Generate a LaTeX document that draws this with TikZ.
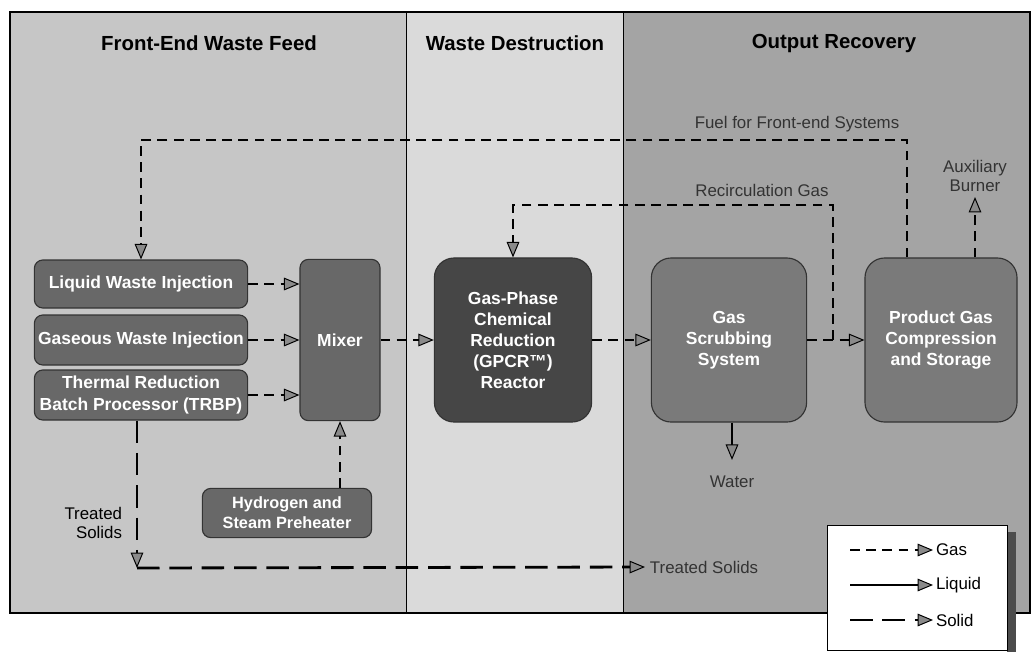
\documentclass[tikz,border=0pt]{standalone}
\usepackage{fontspec}
\setmainfont{Liberation Sans}
\usetikzlibrary{arrows.meta}

\definecolor{feedbg}{HTML}{C6C6C6}
\definecolor{destbg}{HTML}{DADADA}
\definecolor{recbg}{HTML}{A4A4A4}
\definecolor{feedbox}{HTML}{686868}
\definecolor{reactbox}{HTML}{464646}
\definecolor{recbox}{HTML}{7A7A7A}
\definecolor{tipgray}{HTML}{8A8A8A}

\begin{document}
\begin{tikzpicture}[x=0.025cm,y=-0.025cm,
   head/.style={font=\bfseries\fontsize{14.5}{17}\selectfont},
   unit/.style={draw=black!80,line width=0.8pt,fill=feedbox,text=white,align=center,
      font=\bfseries\fontsize{12.4}{15}\selectfont,rounded corners=6pt,inner sep=1pt},
   bigunit/.style={unit,rounded corners=14pt},
   tip/.style={-{Triangle[length=11pt,width=9pt,line width=0.7pt,fill=tipgray]}},
   gas/.style={tip,line width=2pt,dash pattern=on 7pt off 4.5pt},
   fluid/.style={tip,line width=2pt},
   solidflow/.style={tip,line width=2pt,dash pattern=on 16pt off 7pt},
   note/.style={font=\fontsize{12}{14}\selectfont,text=black!80,align=center}]
   \useasboundingbox (0,0) rectangle (1032,653);
   % the three panels
   \fill[feedbg] (10,12) rectangle (406,613);
   \fill[destbg] (406,12) rectangle (623,613);
   \fill[recbg] (623,12) rectangle (1030,613);
   \draw[line width=0.8pt] (10,12) rectangle (1030,613);
   \draw[line width=0.6pt] (406,12) -- (406,613) (623,12) -- (623,613);
   \node[head] (hfeed) at (209,43) {Front-End Waste Feed};
   \node[head] (hdest) at (515,43) {Waste Destruction};
   \node[head] (hrec) at (834,43) {Output Recovery};

   % process units
   \node[unit,minimum width=5.33cm,minimum height=1.2cm] (liquid) at (141,284) {Liquid Waste Injection};
   \node[unit,minimum width=5.33cm,minimum height=1.25cm] (gaseous) at (141,340) {Gaseous Waste Injection};
   \node[unit,minimum width=5.33cm,minimum height=1.25cm] (trbp) at (141,395) {Thermal Reduction\\Batch Processor (TRBP)};
   \node[unit,minimum width=2cm,minimum height=4.03cm] (mixer) at (340,340) {Mixer};
   \node[unit,font=\bfseries\fontsize{11.6}{14}\selectfont,minimum width=4.23cm,minimum height=1.23cm] (preheater) at (287,513)
      {Hydrogen and\\Steam Preheater};
   \node[bigunit,fill=reactbox,minimum width=3.93cm,minimum height=4.1cm] (reactor) at (513,340)
      {Gas-Phase\\Chemical\\Reduction\\(GPCR™)\\Reactor};
   \node[bigunit,fill=recbox,minimum width=3.88cm,minimum height=4.1cm] (scrubber) at (729,340) {Gas\\Scrubbing\\System};
   \node[bigunit,fill=recbox,minimum width=3.8cm,minimum height=4.1cm] (product) at (941,340)
      {Product Gas\\Compression\\and Storage};

   % labels
   \node[note,anchor=south] (fuel) at (797,137) {Fuel for Front-end Systems};
   \node[note,anchor=south] (recgas) at (762,202) {Recirculation Gas};
   \node[note] (burner) at (975,176) {Auxiliary\\Burner};
   \node[note] (water) at (732,482) {Water};
   \node[note,anchor=west] (tsolids) at (645,567) {Treated Solids};
   \node[note,text=black,align=right,anchor=east] (tslabel) at (127,523) {Treated\\Solids};
   \coordinate (fuelup) at (907,140);
   \coordinate (recirc) at (833,205);
   \coordinate (corner) at (137,568);

   % flows
   \foreach \src in {liquid,gaseous,trbp} % feeds into the mixer
     \draw[gas] (\src.east) -- (\src.east -| mixer.west);
   \draw[gas] (mixer) -- (reactor);
   \draw[gas] (reactor) -- (scrubber);
   \draw[gas] (scrubber) -- (product);
   \draw[gas] (preheater.north -| mixer) -- (mixer.south);
   \draw[gas] (product.north -| fuelup) -- (fuelup) -| (liquid.north);
   \draw[gas] (recirc |- scrubber.east) -- (recirc) -| (reactor.north);
   \draw[gas] (product.north -| burner) -- (burner.south);
   \draw[fluid] (scrubber.south -| water) -- ([yshift=8pt]water.north);
   \draw[solidflow] (trbp.south -| corner) -- (corner);
   \draw[solidflow] (corner) -- (tsolids.west);

   % legend
   \fill[black!70] (1007,532) rectangle (1016,652);
   \draw[line width=0.6pt,fill=white] (827,525) rectangle (1007,650);
   \foreach \sty/\name/\y in {gas/Gas/550, fluid/Liquid/585, solidflow/Solid/620} {
     \coordinate (k\name) at (850,\y);
     \node[anchor=west,font=\fontsize{12}{14}\selectfont,inner sep=2pt] (l\name) at (933,\y) {\name};
     \draw[\sty] (k\name) -- (l\name.west);
   }
\end{tikzpicture}
\end{document}
